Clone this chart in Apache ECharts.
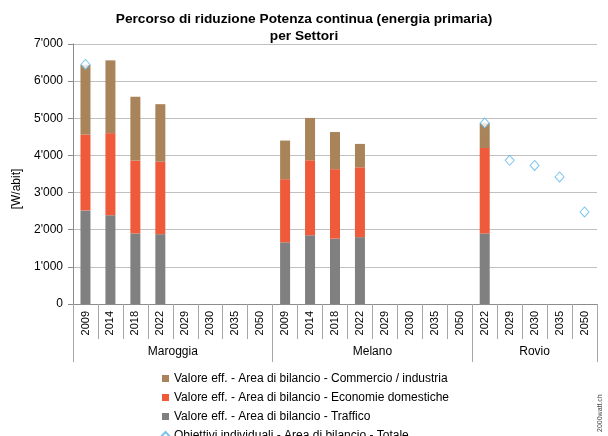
<!DOCTYPE html>
<html>
<head>
<meta charset="utf-8">
<script src="https://cdn.jsdelivr.net/npm/echarts@6/dist/echarts.min.js"></script>
<style>
  html, body { margin: 0; padding: 0; background: #fff; }
  #chart { width: 608px; height: 436px; }
</style>
</head>
<body>
<div id="chart"></div>
<script>
// Years shown per municipality
const years = [
  '2009', '2014', '2018', '2022', '2029', '2030', '2035', '2050',
  '2009', '2014', '2018', '2022', '2029', '2030', '2035', '2050',
  '2022', '2029', '2030', '2035', '2050'
];
const groups = ['Maroggia', 'Melano', 'Rovio'];
const groupSizes = [8, 8, 5];

// [W/abit] per sector
const traffico = [
  2520, 2390, 1900, 1880, null, null, null, null,
  1660, 1850, 1760, 1800, null, null, null, null,
  1900, null, null, null, null
];
const economie = [
  2040, 2210, 1960, 1950, null, null, null, null,
  1700, 2020, 1870, 1880, null, null, null, null,
  2300, null, null, null, null
];
const commercio = [
  1880, 1960, 1720, 1550, null, null, null, null,
  1040, 1140, 1000, 630, null, null, null, null,
  670, null, null, null, null
];
const obiettivi = [
  6450, null, null, null, null, null, null, null,
  null, null, null, null, null, null, null, null,
  4870, 3870, 3730, 3420, 2480
];

const yTicks = [0, 1000, 2000, 3000, 4000, 5000, 6000, 7000];

// group boundaries and label centres on a 0..N scale
const bounds = [0];
groupSizes.forEach(n => bounds.push(bounds[bounds.length - 1] + n));
const centres = groups.map((g, i) => (bounds[i] + bounds[i + 1]) / 2);
const total = bounds[bounds.length - 1];

const fmt = v => {
  const s = String(Math.round(v));
  return s.replace(/\B(?=(\d{3})+(?!\d))/g, "'");
};

const FONT = 'Liberation Sans, Arial, sans-serif';
const chart = echarts.init(document.getElementById('chart'), null, { renderer: 'canvas' });

chart.setOption({
  animation: false,
  backgroundColor: '#fff',
  textStyle: { fontFamily: FONT },
  title: {
    text: 'Percorso di riduzione Potenza continua (energia primaria)\nper Settori',
    left: 'center',
    top: 6,
    textStyle: { fontFamily: FONT, fontSize: 13.7, fontWeight: 'bold', color: '#000', lineHeight: 17 }
  },
  grid: { left: 73, right: 11, top: 44, bottom: 132, containLabel: false },
  legend: {
    orient: 'vertical',
    left: 161,
    top: 372,
    height: 120,
    padding: 0,
    itemWidth: 7,
    itemHeight: 7,
    itemGap: 6,
    textStyle: { fontFamily: FONT, fontSize: 12, color: '#000', lineHeight: 13 },
    data: [
      { name: 'Valore eff. - Area di bilancio - Commercio / industria', icon: 'rect' },
      { name: 'Valore eff. - Area di bilancio - Economie domestiche', icon: 'rect' },
      { name: 'Valore eff. - Area di bilancio - Traffico', icon: 'rect' },
      { name: 'Obiettivi individuali - Area di bilancio - Totale', icon: 'diamond' }
    ]
  },
  xAxis: [
    {
      type: 'category',
      data: years,
      position: 'bottom',
      axisLine: { show: true, lineStyle: { color: '#8c8c8c', width: 1 } },
      axisTick: { show: true, interval: 0, length: 35, lineStyle: { color: '#a6a6a6' } },
      axisLabel: { interval: 0, rotate: 90, margin: 7, fontSize: 11, color: '#000', fontFamily: FONT },
      splitLine: { show: false }
    },
    {
      type: 'value',
      min: 0,
      max: total,
      position: 'bottom',
      axisLine: { show: false },
      axisTick: { show: true, customValues: bounds, length: 58, lineStyle: { color: '#a6a6a6' } },
      axisLabel: {
        customValues: centres,
        margin: 42,
        fontSize: 12,
        color: '#000',
        fontFamily: FONT,
        formatter: v => groups[centres.indexOf(v)] || ''
      },
      splitLine: { show: false }
    }
  ],
  yAxis: {
    type: 'value',
    min: yTicks[0],
    max: yTicks[yTicks.length - 1],
    interval: 1000,
    axisLine: { show: true, lineStyle: { color: '#8c8c8c' } },
    axisTick: { show: true, length: 5, lineStyle: { color: '#8c8c8c' } },
    axisLabel: { fontSize: 12, color: '#000', margin: 10, formatter: fmt, fontFamily: FONT },
    splitLine: { show: true, lineStyle: { color: '#c0c0c0', width: 1 } }
  },
  series: [
    {
      name: 'Valore eff. - Area di bilancio - Traffico',
      type: 'bar', stack: 'tot', data: traffico, barWidth: 10,
      itemStyle: { color: '#808080' }
    },
    {
      name: 'Valore eff. - Area di bilancio - Economie domestiche',
      type: 'bar', stack: 'tot', data: economie, barWidth: 10,
      itemStyle: { color: '#ef5a3a' }
    },
    {
      name: 'Valore eff. - Area di bilancio - Commercio / industria',
      type: 'bar', stack: 'tot', data: commercio, barWidth: 10,
      itemStyle: { color: '#a9845a' }
    },
    {
      name: 'Obiettivi individuali - Area di bilancio - Totale',
      type: 'scatter', data: obiettivi, symbol: 'diamond', symbolSize: [9, 10],
      itemStyle: { color: '#ffffff', borderColor: '#5bb8e8', borderWidth: 1 },
      z: 5
    }
  ],
  graphic: [
    {
      // value axis title
      type: 'text',
      x: 17, y: 189,
      rotation: Math.PI / 2,
      style: { text: '[W/abit]', fontSize: 12, fill: '#000', fontFamily: FONT, align: 'center', verticalAlign: 'middle' }
    },
    {
      type: 'text',
      x: 600, y: 432,
      rotation: Math.PI / 2,
      style: { text: '2000watt.ch', fontSize: 7, fill: '#444', fontFamily: FONT, align: 'left', verticalAlign: 'middle' }
    }
  ]
});
</script>
</body>
</html>
